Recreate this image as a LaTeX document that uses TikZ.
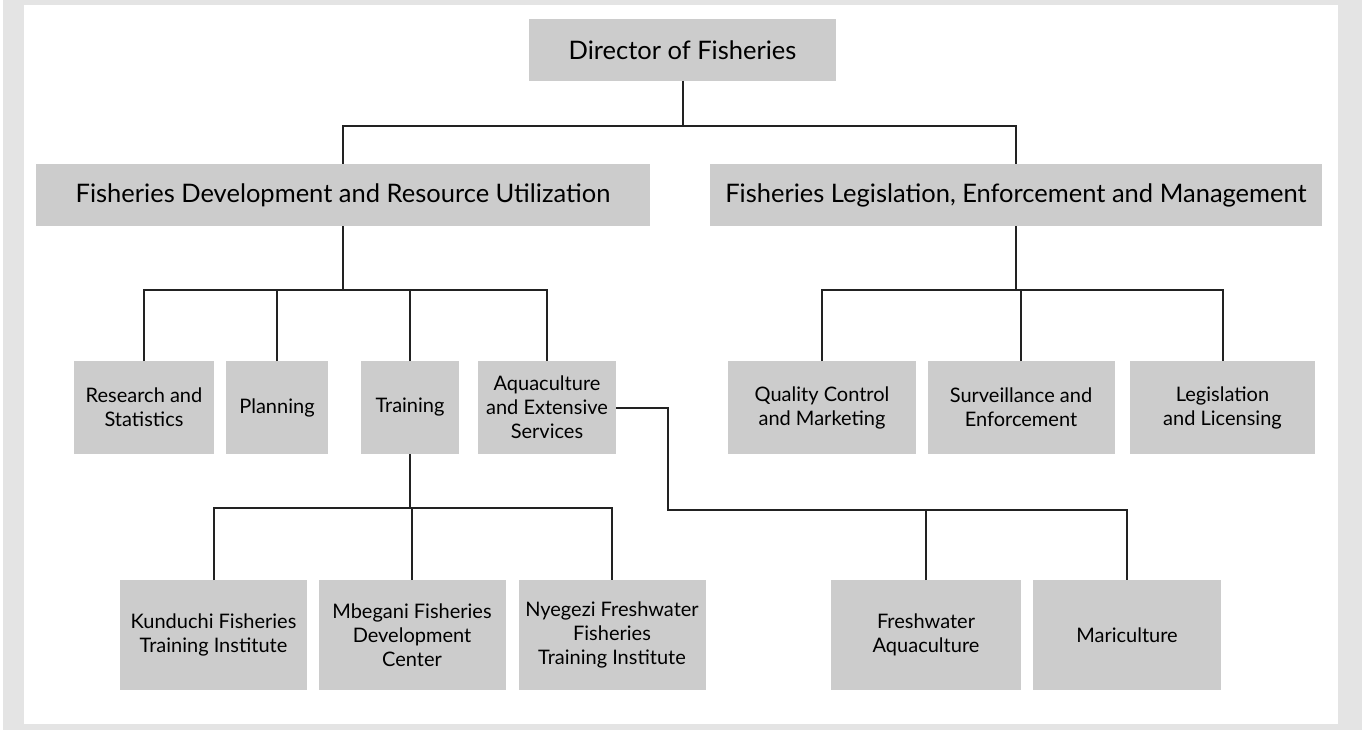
\documentclass[tikz,border=0pt]{standalone}
\usepackage{fontspec}
\setmainfont{Lato}
\definecolor{framegray}{HTML}{E4E4E4}
\definecolor{boxgray}{HTML}{CCCCCC}
\definecolor{linegray}{HTML}{222222}
\begin{document}
\begin{tikzpicture}[x=1pt,y=-1pt,
  box/.style={fill=boxgray,draw=none,inner sep=0pt,outer sep=0pt,align=center,text=black},
  bigbox/.style={box,font=\fontsize{25.5}{29}\selectfont},
  smallbox/.style={box,font=\fontsize{20}{24}\selectfont},
  conn/.style={draw=linegray,line width=2pt}]
% frame
\useasboundingbox (0,0) rectangle (1362,730);
\fill[framegray] (0,0) rectangle (1362,730);
\fill[white] (0,0) rectangle (3,730);
\fill[white] (24,5) rectangle (1338,724);
% level 1
\node[bigbox,minimum width=307pt,minimum height=62pt] (dir) at (682.5,50) {Director of Fisheries};
% level 2
\node[bigbox,minimum width=614pt,minimum height=62pt] (fdru) at (343,195) {Fisheries Development and Resource Utilization};
\node[bigbox,minimum width=612pt,minimum height=62pt] (flem) at (1016,195) {Fisheries Legislation, Enforcement and Management};
% level 3 left
\node[smallbox,minimum width=140pt,minimum height=93pt] (res) at (144,407.5) {Research and\\Statistics};
\node[smallbox,minimum width=102pt,minimum height=93pt] (plan) at (277,407.5) {Planning};
\node[smallbox,minimum width=98pt,minimum height=93pt] (train) at (410,407.5) {Training};
\node[smallbox,minimum width=138pt,minimum height=93pt] (aqua) at (547,407.5) {Aquaculture\\and Extensive\\Services};
% level 3 right
\node[smallbox,minimum width=188pt,minimum height=93pt] (qc) at (822,407.5) {Quality Control\\and Marketing};
\node[smallbox,minimum width=187pt,minimum height=93pt] (surv) at (1021,407.5) {Surveillance and\\Enforcement};
\node[smallbox,minimum width=185pt,minimum height=93pt] (leg) at (1222.5,407.5) {Legislation\\and Licensing};
% level 4
\node[smallbox,minimum width=187pt,minimum height=110pt] (kund) at (213.5,635) {Kunduchi Fisheries\\Training Institute};
\node[smallbox,minimum width=187pt,minimum height=110pt] (mbeg) at (412,635) {Mbegani Fisheries\\Development\\Center};
\node[smallbox,minimum width=187pt,minimum height=110pt] (nyeg) at (612,635) {Nyegezi Freshwater\\Fisheries\\Training Institute};
\node[smallbox,minimum width=190pt,minimum height=110pt] (fresh) at (926,635) {Freshwater\\Aquaculture};
\node[smallbox,minimum width=188pt,minimum height=110pt] (mari) at (1127,635) {Mariculture};
% connectors
\draw[conn] (dir.south) -- ++(0,45) coordinate (j1);
\draw[conn] (fdru.north) |- (j1) -| (flem.north);
\draw[conn] (fdru.south) -- ++(0,64) coordinate (j2);
\draw[conn] (res.north) |- (j2) -| (aqua.north);
\draw[conn] (plan.north) -- (plan.north |- j2);
\draw[conn] (train.north) -- (train.north |- j2);
\draw[conn] (flem.south) -- ++(0,64) coordinate (j4);
\draw[conn] (qc.north) |- (j4) -| (leg.north);
\draw[conn] (surv.north) -- (surv.north |- j4);
\draw[conn] (train.south) -- ++(0,54) coordinate (j3);
\draw[conn] (kund.north) |- (j3) -| (nyeg.north);
\draw[conn] (mbeg.north) -- (mbeg.north |- j3);
\coordinate (k) at (668,510);
\draw[conn] (aqua.east) -| (k) -| (mari.north);
\draw[conn] (fresh.north) -- (fresh.north |- k);
\end{tikzpicture}
\end{document}
